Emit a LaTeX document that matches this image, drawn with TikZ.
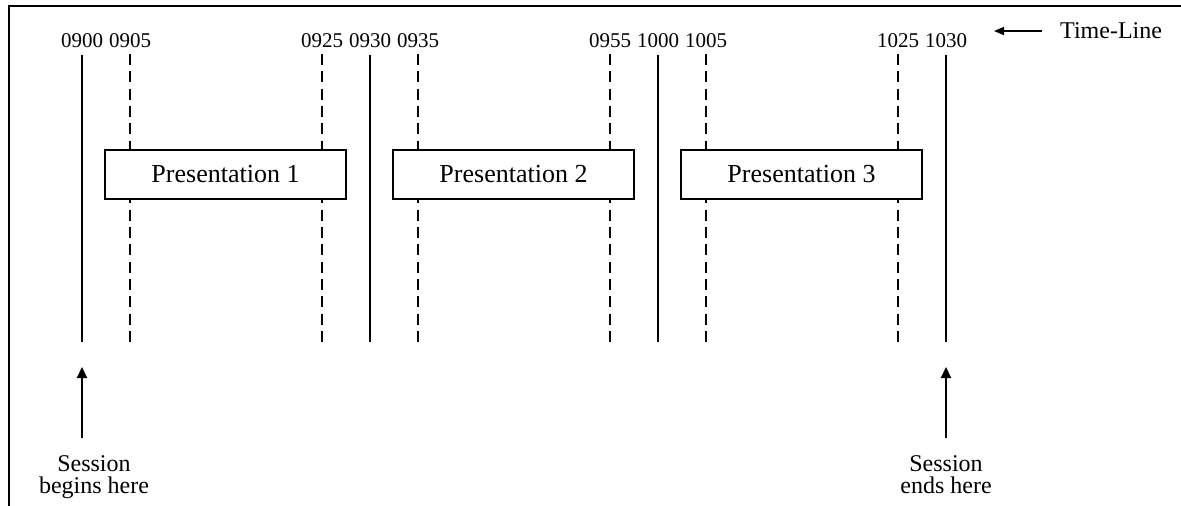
\documentclass[tikz,border=0pt]{standalone}
\usepackage{fontspec}
\setmainfont{Liberation Serif}
\usetikzlibrary{arrows.meta}
\begin{document}
\begin{tikzpicture}[x=1pt,y=-1pt,
  solidmark/.style={line width=2.4pt},
  dashmark/.style={line width=2pt, dash pattern=on 11pt off 6.3pt},
  timelabel/.style={font=\fontsize{21}{24}\selectfont, inner sep=0pt, anchor=base},
  presbox/.style={draw, line width=1.3pt, fill=white, minimum width=241pt,
    minimum height=49pt, inner sep=0pt, font=\fontsize{26}{30}\selectfont},
  note/.style={font=\fontsize{24}{22.4}\selectfont, align=center, inner sep=0pt, anchor=north},
  uparrow/.style={line width=2pt, -{Triangle[length=11pt,width=10pt]}}
]
\useasboundingbox (0,0) rectangle (1181,506);

% frame (top and left edges)
\draw[line width=2pt] (9,506) -- (9,5.5) -- (1181,5.5);

% half-hour marks
\foreach \t/\x in {0900/82, 0930/370, 1000/658, 1030/946} {
  \coordinate (top\t) at (\x,55);
  \coordinate (bot\t) at (\x,342);
  \draw[solidmark] (top\t) -- (bot\t);
  \node[timelabel] (lab\t) at (\x,47) {\t};
}

% start/end of each talk
\foreach \t/\x in {0905/130, 0925/322, 0935/418, 0955/610, 1005/706, 1025/898} {
  \coordinate (top\t) at (\x,54);
  \coordinate (bot\t) at (\x,342);
  \draw[dashmark] (top\t) -- (bot\t);
  \node[timelabel] (lab\t) at (\x,47) {\t};
}

% talks
\node[presbox] (p1) at (225.5,174.5) {Presentation 1};
\node[presbox] (p2) at (513.5,174.5) {Presentation 2};
\node[presbox] (p3) at (801.5,174.5) {Presentation 3};

% time-line legend
\node[font=\fontsize{24}{28}\selectfont, inner sep=0pt, anchor=base west] (tl) at (1060,38) {Time-Line};
\coordinate (tlstart) at (1042,31);
\coordinate (tlend) at (994,31);
\draw[line width=1.6pt, -{Triangle[length=10pt,width=8pt]}] (tlstart) -- (tlend);

% session start / end markers
\coordinate (sbfoot) at (82,438);
\coordinate (sbtip) at (82,367);
\draw[uparrow] (sbfoot) -- (sbtip);
\node[note] (sbtext) at (94,455) {Session\\begins here};

\coordinate (sefoot) at (946,438);
\coordinate (setip) at (946,367);
\draw[uparrow] (sefoot) -- (setip);
\node[note] (setext) at (946,455) {Session\\ends here};
\end{tikzpicture}
\end{document}
